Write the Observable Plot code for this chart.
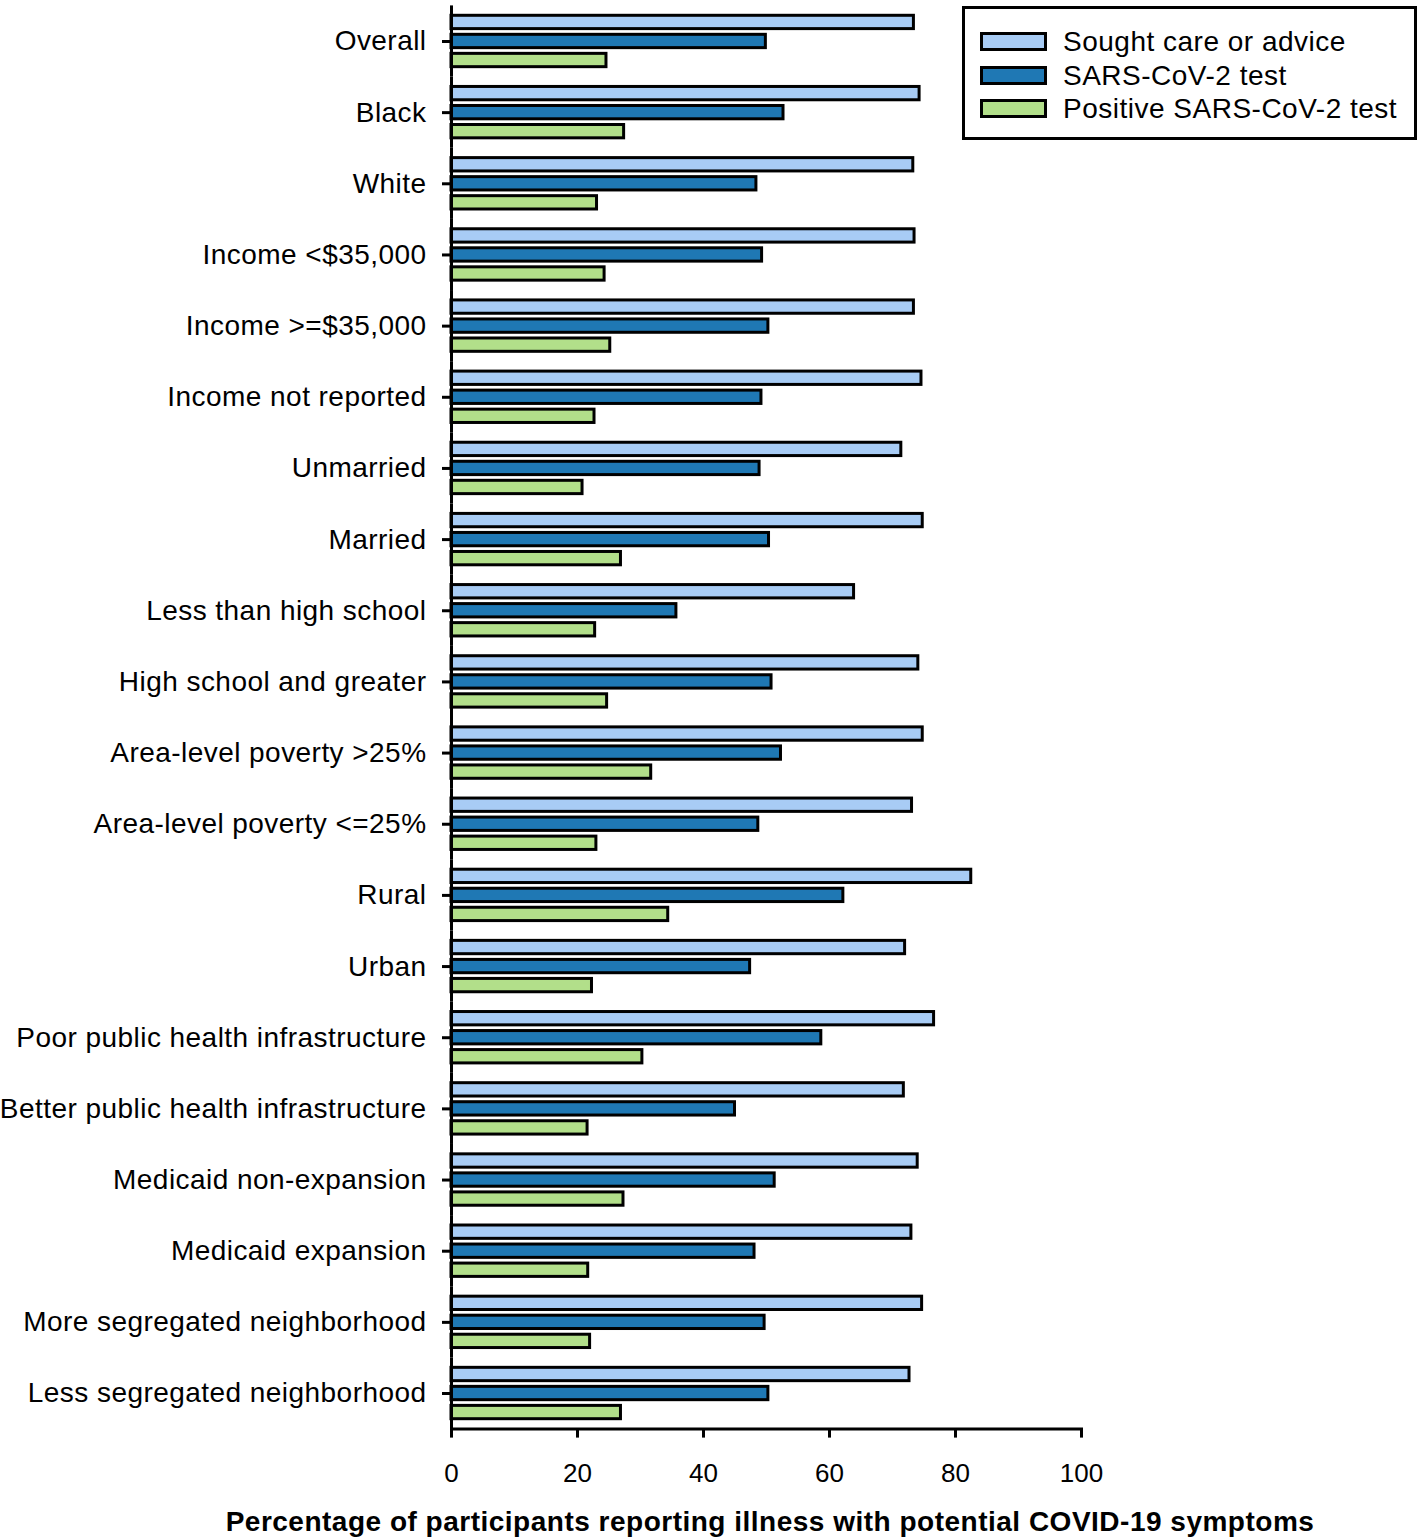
<!DOCTYPE html>
<html>
<head>
<meta charset="utf-8">
<script src="https://cdn.jsdelivr.net/npm/d3@7"></script>
<script src="https://cdn.jsdelivr.net/npm/@observablehq/plot@0.6"></script>
<style>
  html, body { margin: 0; padding: 0; background: #fff; }
  #wrap { position: relative; width: 1424px; height: 1540px; font-family: "Liberation Sans", Arial, sans-serif; color: #000; }
  #wrap svg g[aria-label="fy-axis tick label"] text { letter-spacing: 0.45px; }
  #legend { position: absolute; left: 962px; top: 6px; width: 455px; height: 134px; box-sizing: border-box;
            border: 3px solid #000; background: #fff; padding-top: 16px; }
  .row { display: flex; align-items: center; height: 33.5px; }
  .sw { box-sizing: border-box; width: 67px; height: 19px; border: 3px solid #000; margin-left: 15px; }
  .lab { margin-left: 16px; font-size: 28px; letter-spacing: 0.5px; line-height: 33.5px; white-space: nowrap; }
  #xtitle { position: absolute; left: 170px; width: 1200px; top: 1508px; text-align: center; font-size: 28px;
            line-height: 28px; font-weight: bold; letter-spacing: 0.5px; white-space: nowrap; }
</style>
</head>
<body>
<div id="wrap"></div>
<script>
const categories = [
  "Overall", "Black", "White", "Income <$35,000", "Income >=$35,000", "Income not reported",
  "Unmarried", "Married", "Less than high school", "High school and greater",
  "Area-level poverty >25%", "Area-level poverty <=25%", "Rural", "Urban",
  "Poor public health infrastructure", "Better public health infrastructure",
  "Medicaid non-expansion", "Medicaid expansion", "More segregated neighborhood", "Less segregated neighborhood"
];
const series = ["Sought care or advice", "SARS-CoV-2 test", "Positive SARS-CoV-2 test"];
const sought   = [73.4, 74.3, 73.3, 73.5, 73.4, 74.6, 71.4, 74.8, 63.9, 74.1, 74.8, 73.1, 82.5, 72.0, 76.6, 71.8, 74.0, 73.0, 74.7, 72.7];
const tested   = [49.9, 52.7, 48.4, 49.3, 50.3, 49.2, 48.9, 50.4, 35.7, 50.8, 52.3, 48.7, 62.2, 47.4, 58.7, 45.0, 51.3, 48.1, 49.7, 50.3];
const positive = [24.6, 27.4, 23.1, 24.3, 25.2, 22.7, 20.8, 26.9, 22.8, 24.7, 31.7, 23.0, 34.4, 22.3, 30.3, 21.6, 27.3, 21.7, 22.0, 26.9];
const xTicks = [0, 20, 40, 60, 80, 100];
const colors = ["#a8ccf5", "#1f78b4", "#b2df8a"];
const xTitle = "Percentage of participants reporting illness with potential COVID-19 symptoms";

const valuesBySeries = [sought, tested, positive];
const rows = categories.flatMap((c, i) => series.map((s, j) => ({category: c, series: s, value: valuesBySeries[j][i]})));

const chart = Plot.plot({
  width: 1424,
  height: 1540,
  marginLeft: 451,
  marginRight: 343,
  marginTop: 5.4,
  marginBottom: 111.4,
  style: {fontFamily: "'Liberation Sans', Arial, sans-serif", background: "#fff", color: "#000"},
  x: {domain: [0, 100], axis: null},
  y: {domain: series, axis: null, paddingInner: 0.3, paddingOuter: 0.52, round: false},
  fy: {domain: categories, padding: 0, axis: null, round: false},
  color: {domain: series, range: colors},
  marks: [
    Plot.barX(rows, {x: "value", y: "series", fy: "category", fill: "series", stroke: "#000", strokeWidth: 3}),
    Plot.ruleX([0], {stroke: "#000", strokeWidth: 3}),
    Plot.axisFy({anchor: "left", tickSize: 9, tickPadding: 16, fontSize: 28, label: null, strokeWidth: 3}),
    Plot.axisX({anchor: "bottom", ticks: xTicks, tickSize: 9, tickPadding: 25, fontSize: 26, label: null, strokeWidth: 3}),
    Plot.frame({anchor: "bottom", facetAnchor: "bottom", stroke: "#000", strokeWidth: 3})
  ]
});

const wrap = document.getElementById("wrap");
wrap.appendChild(chart);

const legend = document.createElement("div");
legend.id = "legend";
series.forEach((s, j) => {
  const row = document.createElement("div");
  row.className = "row";
  const sw = document.createElement("div");
  sw.className = "sw";
  sw.style.background = colors[j];
  const lab = document.createElement("div");
  lab.className = "lab";
  lab.textContent = s;
  row.appendChild(sw);
  row.appendChild(lab);
  legend.appendChild(row);
});
wrap.appendChild(legend);

const title = document.createElement("div");
title.id = "xtitle";
title.textContent = xTitle;
wrap.appendChild(title);
</script>
</body>
</html>
